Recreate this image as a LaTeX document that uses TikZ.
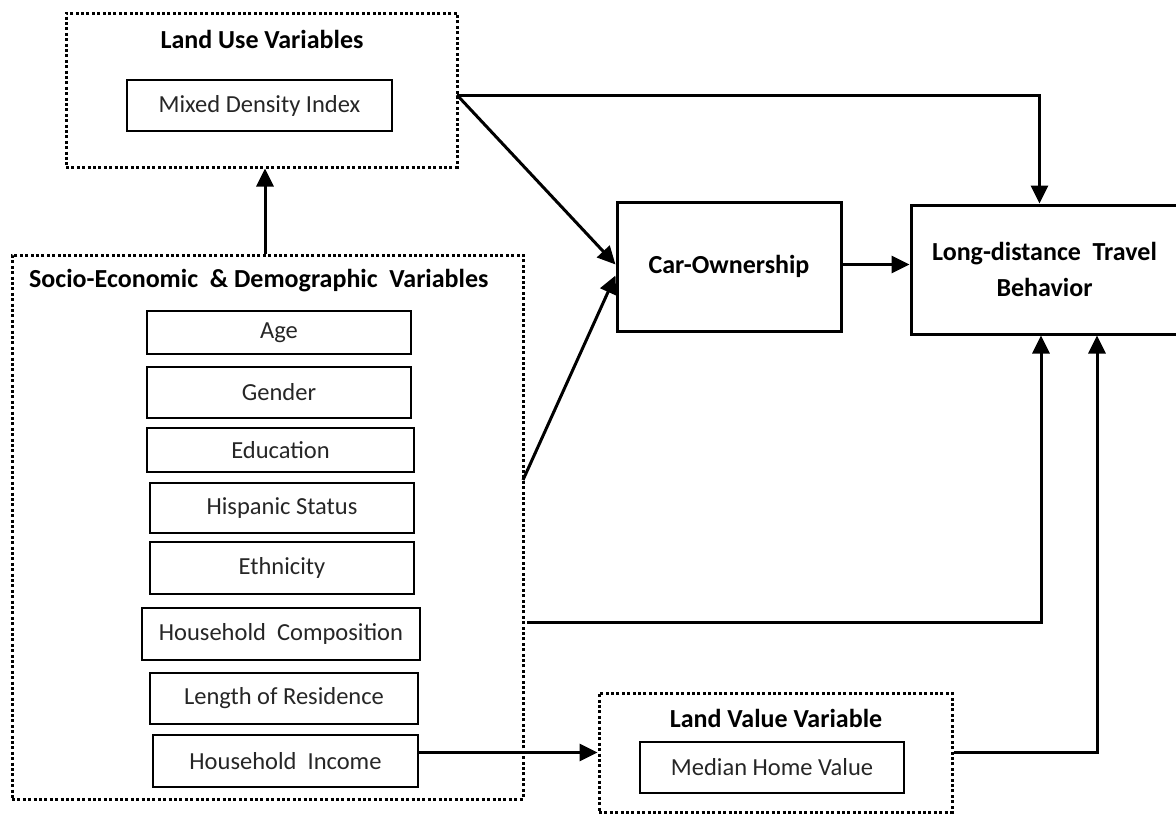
\documentclass[tikz,border=0pt]{standalone}
\usepackage{fontspec}
\setmainfont{Carlito}
\usetikzlibrary{arrows.meta}

\begin{document}
\begin{tikzpicture}[
  x=1pt, y=-1pt,
  group/.style={rectangle, draw, line width=3pt, dash pattern=on 3pt off 2.4pt},
  item/.style={rectangle, draw, line width=1.5pt, minimum width=264pt, minimum height=51pt, font=\fontsize{24.5}{28}\selectfont, text=black!85},
  mainbox/.style={rectangle, draw, line width=3pt, font=\bfseries\fontsize{26}{36}\selectfont, align=center},
  title/.style={font=\bfseries\fontsize{26}{30}\selectfont},
  arrow/.style={-{Triangle[length=18pt,width=17pt]}, line width=3pt},
  font=\fontsize{24.5}{28}\selectfont
]
\useasboundingbox (0,0) rectangle (1176,814);

% Land use
\node[group, minimum width=391pt, minimum height=154pt] (landuse) at (261.5,90) {};
\node[title] (lutitle) at (262,39) {Land Use Variables};
\node[item, minimum width=265pt] (mdi) at (259.5,105.5) {Mixed Density Index};

% Socio-economic & demographic
\node[group, minimum width=511pt, minimum height=544pt] (se) at (267.5,527) {};
\node[title, anchor=west, inner sep=0pt] (setitle) at (29,281) {Socio-Economic \ \& Demographic \ Variables};
\node[item, minimum height=43pt] (age) at (279,332.5) {Age};
\node[item] (gender) at (279,392.5) {Gender};
\node[item, minimum width=267pt, minimum height=44pt] (edu) at (280.5,450) {Education};
\node[item, minimum height=50pt] (hisp) at (282,508) {Hispanic Status};
\node[item, minimum height=52pt] (eth) at (282,568) {Ethnicity};
\node[item, minimum width=278pt, minimum height=52pt] (comp) at (281,634) {Household \ Composition};
\node[item, minimum width=268pt] (length) at (284,698.5) {Length of Residence};
\node[item, minimum width=265pt, minimum height=52pt] (income) at (285.5,761) {Household \ Income};

% Outcomes
\node[mainbox, minimum width=224pt, minimum height=129pt] (car) at (729,266.5) {Car-Ownership};
\node[mainbox, minimum width=267pt, minimum height=129pt] (ldtb) at (1044.5,269.5) {Long-distance \ Travel\\Behavior};

% Land value
\node[group, minimum width=353pt, minimum height=119pt] (lv) at (775.5,752.5) {};
\node[title] (lvtitle) at (776,718) {Land Value Variable};
\node[item] (mhv) at (772,767.5) {Median Home Value};

% Free ends
\coordinate (luout) at (457,95);
\coordinate (seout) at (523,480);
\coordinate (seright) at (527,622);

% Arrows
\draw[arrow] (se.north -| 265,0) -- (landuse.south -| 265,0);
\draw[arrow] (luout) -| ([xshift=-5pt]ldtb.north);
\draw[arrow] (luout) -- ([yshift=2pt]car.west);
\draw[arrow] (seout) -- ([yshift=-9pt]car.west);
\draw[arrow] ([yshift=2pt]car.east) -- ([yshift=2pt]car.east -| ldtb.west);
\draw[arrow] (seright) -| ([xshift=-3.5pt]ldtb.south);
\draw[arrow] (income.east |- lv.west) -- (lv.west);
\draw[arrow] (lv.east) -| ([xshift=52.5pt]ldtb.south);
\end{tikzpicture}
\end{document}
